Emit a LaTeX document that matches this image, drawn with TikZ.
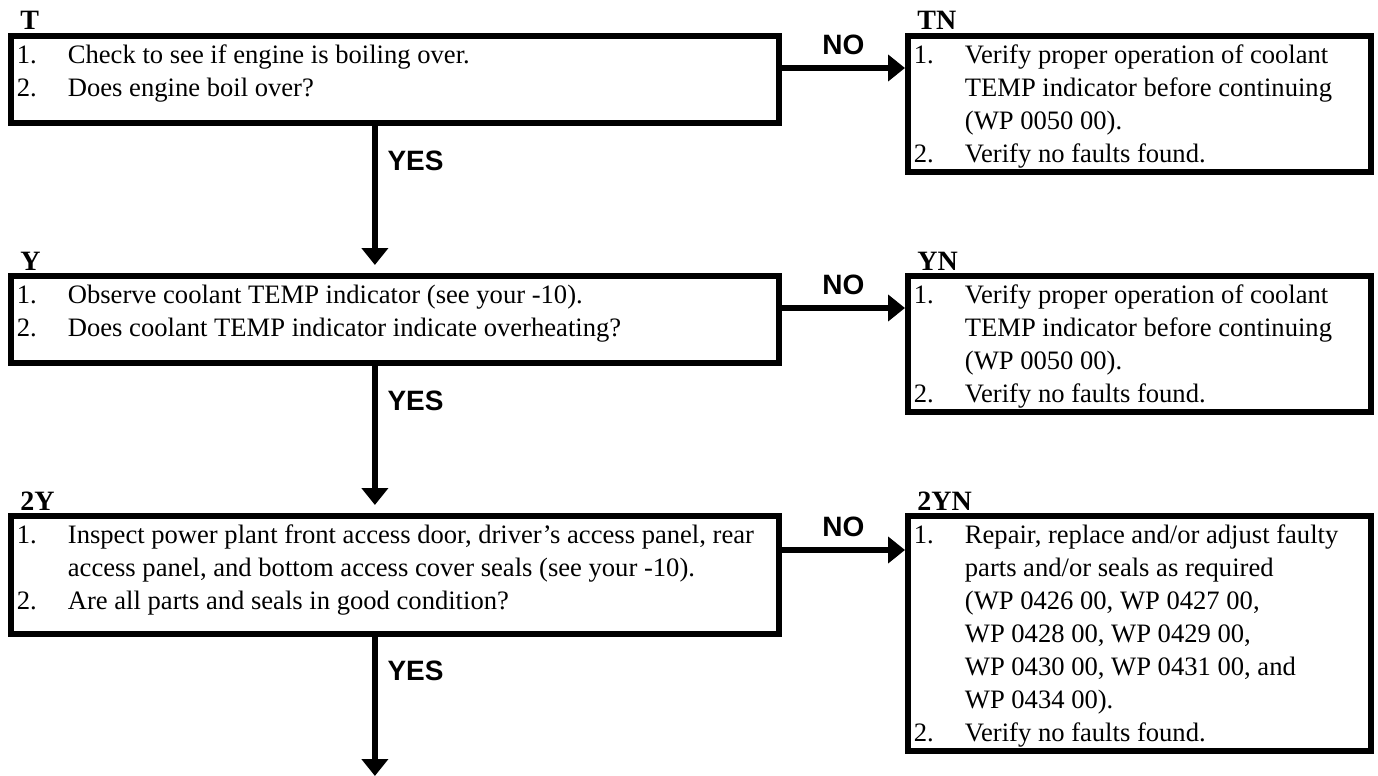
\documentclass[tikz,border=0pt]{standalone}
\usepackage{fontspec}
\setmainfont{Liberation Serif}
\setsansfont{Liberation Sans}
\usepackage{array}
\usetikzlibrary{arrows.meta}
\newcolumntype{L}[1]{>{\raggedright\arraybackslash}p{#1}}

\begin{document}
\begin{tikzpicture}[
      x=0.5pt, y=-0.5pt,
      box/.style={draw, line width=2.9pt, anchor=north west, inner xsep=3pt, inner ysep=0pt,
                  text height=13.55pt, font=\fontsize{13.3}{16.5}\selectfont},
      head/.style={anchor=base west, inner sep=0pt, font=\bfseries\fontsize{14}{14}\selectfont},
      ar/.style={-{Triangle[length=8.5pt,width=13pt]}, line width=2.6pt},
      lblno/.style={above=5.5pt, inner sep=0pt, font=\sffamily\bfseries\fontsize{14}{14}\selectfont},
      lblyes/.style={pos=0.24, anchor=west, xshift=5pt, inner sep=0pt,
                     font=\sffamily\bfseries\fontsize{14}{14}\selectfont},
    ]
    \useasboundingbox (0,0) rectangle (1378,776);

    % ---------------- step T
    \node[box, text depth=30.05pt] (bT) at (8,33)
      {\begin{tabular}[t]{@{}p{25.5pt}@{}L{352.5pt}@{}}
        1. & Check to see if engine is boiling over.\\
        2. & Does engine boil over?
      \end{tabular}};
    \node[box, text depth=54.55pt] (bTN) at (905,33)
      {\begin{tabular}[t]{@{}p{25.5pt}@{}L{200pt}@{}}
        1. & Verify proper operation of coolant\newline TEMP indicator before continuing\newline (WP 0050 00).\\
        2. & Verify no faults found.
      \end{tabular}};
    \node[head] at ([xshift=6pt,yshift=1.5pt]bT.north west) {T};
    \node[head] at ([xshift=6pt,yshift=1.5pt]bTN.north west) {TN};

    % ---------------- step Y
    \node[box, text depth=30.05pt] (bY) at (8,273)
      {\begin{tabular}[t]{@{}p{25.5pt}@{}L{352.5pt}@{}}
        1. & Observe coolant TEMP indicator (see your -10).\\
        2. & Does coolant TEMP indicator indicate overheating?
      \end{tabular}};
    \node[box, text depth=54.55pt] (bYN) at (905,273)
      {\begin{tabular}[t]{@{}p{25.5pt}@{}L{200pt}@{}}
        1. & Verify proper operation of coolant\newline TEMP indicator before continuing\newline (WP 0050 00).\\
        2. & Verify no faults found.
      \end{tabular}};
    \node[head] at ([xshift=6pt,yshift=1.5pt]bY.north west) {Y};
    \node[head] at ([xshift=6pt,yshift=1.5pt]bYN.north west) {YN};

    % ---------------- step 2Y
    \node[box, text depth=45.55pt] (bYY) at (8,513)
      {\begin{tabular}[t]{@{}p{25.5pt}@{}L{352.5pt}@{}}
        1. & Inspect power plant front access door, driver’s access panel, rear\newline access panel, and bottom access cover seals (see your -10).\\
        2. & Are all parts and seals in good condition?
      \end{tabular}};
    \node[box, text depth=104.05pt] (bYYN) at (905,513)
      {\begin{tabular}[t]{@{}p{25.5pt}@{}L{200pt}@{}}
        1. & Repair, replace and/or adjust faulty\newline parts and/or seals as required\newline (WP 0426 00, WP 0427 00,\newline WP 0428 00, WP 0429 00,\newline WP 0430 00, WP 0431 00, and\newline WP 0434 00).\\
        2. & Verify no faults found.
      \end{tabular}};
    \node[head] at ([xshift=6pt,yshift=1.5pt]bYY.north west) {2Y};
    \node[head] at ([xshift=6pt,yshift=1.5pt]bYYN.north west) {2YN};

    % ---------------- NO branches
    \coordinate (oT) at ([yshift=-17.5pt]bT.north east);
    \coordinate (oY) at ([yshift=-17.5pt]bY.north east);
    \coordinate (oYY) at ([yshift=-18.5pt]bYY.north east);
    \draw[ar] (oT) -- node[lblno] {NO} (oT -| bTN.west);
    \draw[ar] (oY) -- node[lblno] {NO} (oY -| bYN.west);
    \draw[ar] (oYY) -- node[lblno] {NO} (oYY -| bYYN.west);

    % ---------------- YES branches
    \coordinate (dT) at ([xshift=-10pt]bT.south);
    \coordinate (dY) at ([xshift=-10pt]bY.south);
    \coordinate (dYY) at ([xshift=-10pt]bYY.south);
    \coordinate (exit) at (375,776);
    \draw[ar, shorten >=4pt] (dT) -- node[lblyes] {YES} (dT |- bY.north);
    \draw[ar, shorten >=4pt] (dY) -- node[lblyes] {YES} (dY |- bYY.north);
    \draw[ar] (dYY) -- node[lblyes] {YES} (dYY |- exit);
  \end{tikzpicture}
\end{document}
